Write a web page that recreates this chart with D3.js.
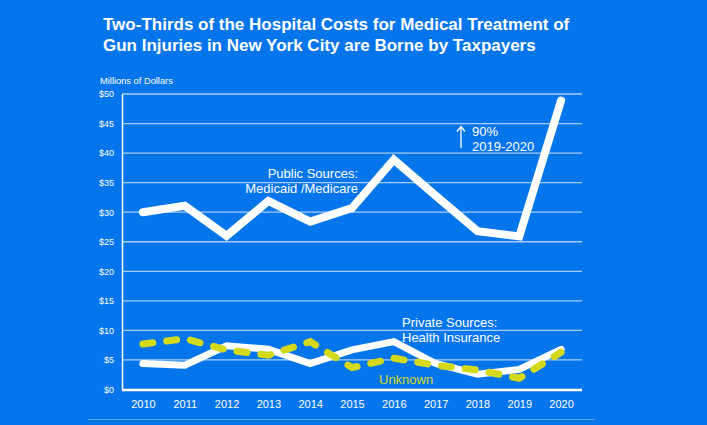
<!DOCTYPE html>
<html><head><meta charset="utf-8">
<script src="https://cdn.jsdelivr.net/npm/d3@7"></script>
<style>
html,body{margin:0;padding:0;background:#0575ec;}
svg{display:block;font-family:"Liberation Sans",Arial,sans-serif;}
</style></head>
<body>
<script>
const years = [2010,2011,2012,2013,2014,2015,2016,2017,2018,2019,2020];
const publicSources = [30,31.1,26,31.9,28.4,30.7,38.9,32.8,26.8,25.9,48.9];
const privateSources = [4.4,4.1,7.4,6.8,4.4,6.7,8.1,4.4,2.6,3.4,6.8];
const unknownSources = [7.7,8.6,6.7,5.8,8.1,3.7,5.3,4.1,3.3,1.9,6.3];
const yTicks = [0,5,10,15,20,25,30,35,40,45,50];
const titleLines = ["Two-Thirds of the Hospital Costs for Medical Treatment of","Gun Injuries in New York City are Borne by Taxpayers"];

const W=707,H=425;
const svg=d3.select("body").append("svg").attr("width",W).attr("height",H);
svg.append("rect").attr("width",W).attr("height",H).attr("fill","#0575ec");

const x=d3.scalePoint().domain(years).range([122,582]).padding(0.5);
const y=d3.scaleLinear().domain([0,50]).range([389.5,94]);

// title
svg.append("g").selectAll("text").data(titleLines).join("text")
  .attr("x",103).attr("y",(d,i)=>30+i*20.5)
  .attr("fill","#fff").attr("font-weight","bold").attr("font-size",17)
  .text(d=>d);

svg.append("text").attr("x",100).attr("y",84).attr("fill","#fff")
  .attr("font-size",9.3).text("Millions of Dollars");

// gridlines
svg.append("g").selectAll("line").data(yTicks.filter(d=>d>0)).join("line")
  .attr("x1",122).attr("x2",582).attr("y1",d=>y(d)).attr("y2",d=>y(d))
  .attr("stroke","#a9cdf7").attr("stroke-width",1.3);

// y axis
const yAxis=svg.append("g").attr("transform","translate(122,0)")
  .call(d3.axisLeft(y).tickValues(yTicks).tickSize(0).tickPadding(8).tickFormat(d=>"$"+d));
yAxis.select(".domain").attr("stroke","#fff").attr("stroke-width",1.5);
yAxis.selectAll("text").attr("fill","#fff").attr("font-size",9).attr("font-family","Liberation Sans, Arial, sans-serif");

// x axis
const xAxis=svg.append("g").attr("transform","translate(0,390)")
  .call(d3.axisBottom(x).tickSize(0).tickPadding(10).tickFormat(d3.format("d")));
xAxis.select(".domain").attr("stroke","#fff").attr("stroke-width",2.5).attr("d","M122,0H582");
xAxis.selectAll("text").attr("fill","#fff").attr("font-size",11).attr("font-family","Liberation Sans, Arial, sans-serif");

// bottom faint line
svg.append("line").attr("x1",88).attr("x2",595).attr("y1",419.5).attr("y2",419.5)
  .attr("stroke","#5d9ff0").attr("stroke-width",1);

const line=d3.line().x((d,i)=>x(years[i])).y(d=>y(d));

svg.append("path").datum(privateSources).attr("d",line)
  .attr("fill","none").attr("stroke","#fff").attr("stroke-width",7).attr("stroke-linecap","round");
svg.append("path").datum(unknownSources).attr("d",line)
  .attr("fill","none").attr("stroke","#d4d91c").attr("stroke-width",7)
  .attr("stroke-linecap","round").attr("stroke-dasharray","10,14");
svg.append("path").datum(publicSources).attr("d",line)
  .attr("fill","none").attr("stroke","#fff").attr("stroke-width",8).attr("stroke-linecap","round");

// labels
const lab=(t,xx,yy,anchor,col)=>svg.append("text").attr("x",xx).attr("y",yy)
  .attr("text-anchor",anchor).attr("fill",col||"#fff").attr("font-size",13).text(t);
lab("Public Sources:",358,177.5,"end");
lab("Medicaid /Medicare",358,192.5,"end");
lab("Private Sources:",402,326.5,"start");
lab("Health Insurance",402,341.5,"start");
lab("Unknown",379,383.5,"start","#d4d91c");
lab("90%",472,136,"start");
lab("2019-2020",472,151,"start");

// arrow
svg.append("path").attr("d","M461,148V127M457,131.5L461,126.5L465,131.5")
  .attr("fill","none").attr("stroke","#fff").attr("stroke-width",1.3);
</script>
</body></html>
